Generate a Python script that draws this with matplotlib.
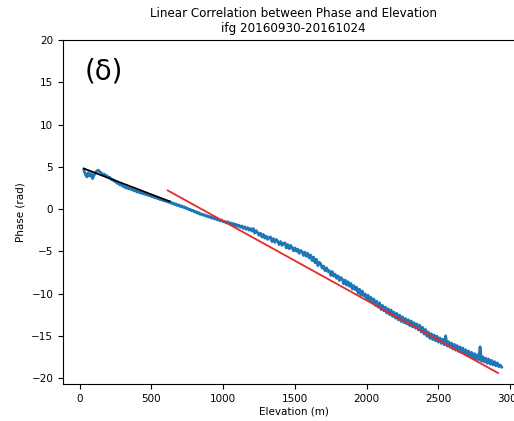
import matplotlib
matplotlib.use("Agg")
import matplotlib.pyplot as plt

# Elevation (m) of the phase profile samples
elevation = list(range(30, 2941, 10))
# Unwrapped phase (rad)
phase = [
    4.6, 4.1, 3.8, 4.3, 3.9, 4.2, 3.6, 4.0, 4.3, 4.5,
    4.6, 4.4, 4.3, 4.05, 4.15, 3.9, 3.95, 3.7, 3.75, 3.5,
    3.5, 3.3, 3.3, 3.05, 3.1, 2.85, 2.9, 2.7, 2.7, 2.5,
    2.55, 2.4, 2.45, 2.3, 2.3, 2.15, 2.2, 2.0, 2.1, 1.9,
    1.95, 1.8, 1.85, 1.7, 1.72, 1.6, 1.62, 1.48, 1.5, 1.35,
    1.4, 1.25, 1.3, 1.12, 1.18, 1.0, 1.08, 0.9, 0.95, 0.8,
    0.85, 0.68, 0.72, 0.55, 0.62, 0.42, 0.5, 0.3, 0.38, 0.2,
    0.26, 0.08, 0.12, -0.08, -0.02, -0.22, -0.15, -0.35, -0.3, -0.5,
    -0.42, -0.62, -0.58, -0.72, -0.68, -0.85, -0.8, -0.95, -0.9, -1.08,
    -1.0, -1.18, -1.1, -1.3, -1.22, -1.42, -1.3, -1.5, -1.45, -1.65,
    -1.5, -1.72, -1.62, -1.85, -1.7, -1.95, -1.8, -2.05, -1.92, -2.15,
    -2.0, -2.3, -2.1, -2.4, -2.2, -2.5, -2.3,
    -2.6, -2.3, -2.85, -2.55, -2.8, -3.1, -2.85, -3.3, -3.0, -3.45,
    -3.2, -3.6, -3.35, -3.3, -3.85, -3.5, -3.95, -3.6, -3.8, -4.2,
    -3.85, -4.3, -4.05, -4.0, -4.6, -4.2, -4.7, -4.3, -4.55, -4.95,
    -4.6, -5.0, -4.75, -5.25, -4.9, -5.05, -5.5, -5.1, -5.6, -5.25,
    -5.8, -5.45, -6.1, -5.7, -6.35, -5.95, -6.7, -6.3, -6.5, -7.0,
    -6.75, -7.3, -6.95, -7.4, -7.3, -7.85, -7.4, -7.95, -7.7, -8.2,
    -7.9, -8.45, -8.1, -8.3, -8.85, -8.4, -9.0, -8.6, -9.15, -8.8,
    -9.45, -9.05, -9.55, -9.25, -9.95, -9.5, -10.2, -9.7, -10.3, -10.05,
    -10.7, -10.2, -10.85, -10.45, -11.1, -10.65, -11.4, -10.9, -11.6, -11.1,
    -11.9, -11.4, -12.05, -11.6, -12.3, -11.8, -12.5, -11.95, -12.7, -12.2,
    -12.9, -12.35, -13.1, -12.55, -13.3, -12.75, -13.45, -12.95, -13.6, -13.1,
    -13.8, -13.25, -13.95, -13.45, -14.1, -13.6, -14.3, -13.75, -14.55, -14.0,
    -14.8, -14.25, -15.05, -14.55, -15.3, -14.75, -15.45, -14.9, -15.6, -15.05,
    -15.75, -15.25, -15.9, -15.4, -16.05, -15.0, -16.2, -15.7, -16.35, -15.85,
    -16.55, -16.0, -16.7, -16.15, -16.85, -16.3, -17.0, -16.45, -17.15, -16.65,
    -17.3, -16.8, -17.45, -16.95, -17.6, -17.1, -17.75, -17.25, -17.85, -16.3,
    -18.0, -17.5, -18.1, -17.65, -18.25, -17.75, -18.35, -17.9, -18.45, -18.05,
    -18.55, -18.2, -18.65, -18.45, -18.7,
]

# Linear fits (endpoints)
fit1_x = [28, 628]
fit1_y = [4.8, 0.9]
fit2_x = [614, 2915]
fit2_y = [2.2, -19.4]

title_text = "Linear Correlation between Phase and Elevation\nifg 20160930-20161024"
panel_label = "(δ)"

fig = plt.figure(figsize=(5.14, 4.21), dpi=100)
ax = fig.add_axes([63/514, (421-384)/421, (524-63)/514, (384-40)/421])

n = min(len(elevation), len(phase))
ax.plot(elevation[:n], phase[:n], color="#1f77b4", lw=2.0)
ax.plot(fit1_x, fit1_y, color="black", lw=1.3)
ax.plot(fit2_x, fit2_y, color="#e8282b", lw=1.3)

ax.set_xlim(-116, 3096)
ax.set_ylim(-20.7, 20)
ax.set_xticks([0, 500, 1000, 1500, 2000, 2500, 3000])
ax.set_yticks([-20, -15, -10, -5, 0, 5, 10, 15, 20])
ax.tick_params(labelsize=7.5, length=3.5)
ax.set_xlabel("Elevation (m)", fontsize=7.5, labelpad=2)
ax.set_ylabel("Phase (rad)", fontsize=7.5, labelpad=4)
ax.set_title(title_text, fontsize=8.6, pad=6)
ax.text(0.046, 0.907, panel_label, transform=ax.transAxes, fontsize=20,
        va="center", ha="left")

fig.savefig("out.png", dpi=100)
